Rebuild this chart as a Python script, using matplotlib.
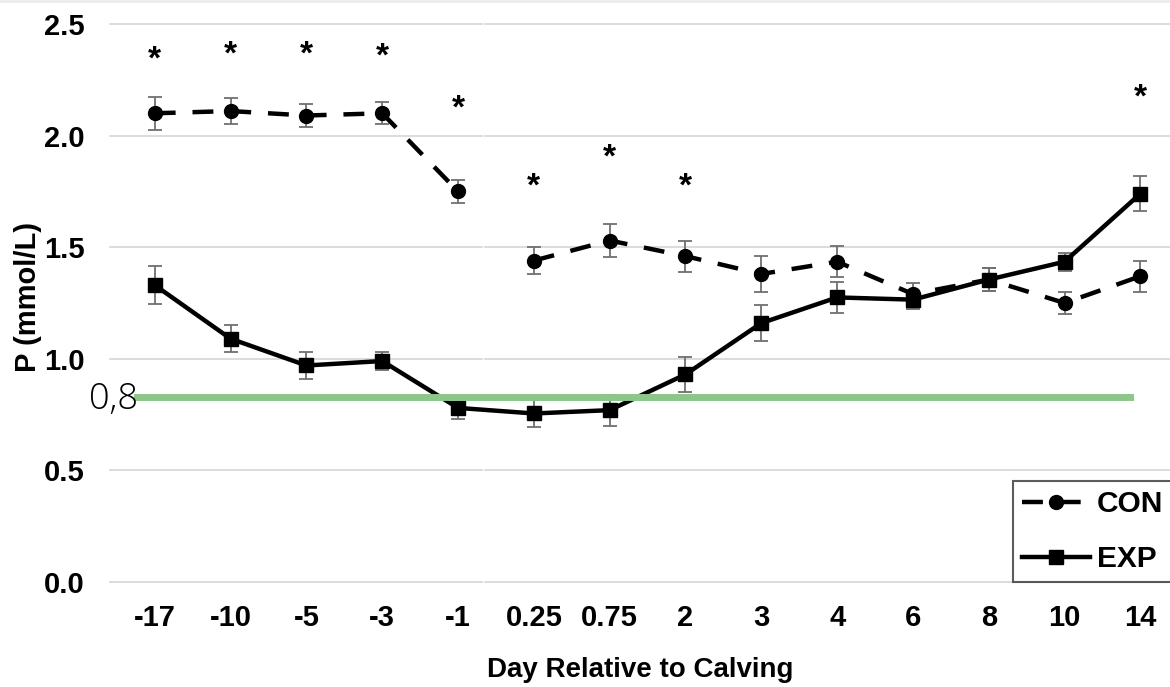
import matplotlib
matplotlib.use("Agg")
import matplotlib.pyplot as plt
from matplotlib.lines import Line2D
import numpy as np

days = ["-17", "-10", "-5", "-3", "-1", "0.25", "0.75", "2", "3", "4", "6", "8", "10", "14"]
con = [2.10, 2.11, 2.09, 2.10, 1.75, 1.44, 1.53, 1.46, 1.38, 1.435, 1.29, 1.355, 1.25, 1.37]
con_err = [0.075, 0.06, 0.05, 0.05, 0.05, 0.06, 0.075, 0.07, 0.08, 0.07, 0.05, 0.05, 0.05, 0.07]
exp_ = [1.33, 1.09, 0.97, 0.99, 0.78, 0.755, 0.77, 0.93, 1.16, 1.275, 1.265, 1.355, 1.435, 1.74]
exp_err = [0.085, 0.06, 0.06, 0.04, 0.05, 0.06, 0.07, 0.08, 0.08, 0.07, 0.04, 0.05, 0.04, 0.08]
sig_days = ["-17", "-10", "-5", "-3", "-1", "0.25", "0.75", "2", "14"]
sig_y = [2.34, 2.36, 2.36, 2.35, 2.12, 1.77, 1.90, 1.77, 2.17]
threshold = 0.83
threshold_label = "0,8"

bold_font = ["Liberation Sans", "DejaVu Sans"]

fig = plt.figure(figsize=(11.70, 6.87), dpi=100)
ax = fig.add_axes([110 / 1170, 1 - 582 / 687, 1060 / 1170, (582 - 24) / 687])

# faint border line at the very top of the image
fig.add_artist(Line2D([0, 1], [0.998, 0.998], transform=fig.transFigure, color="#ececec", lw=2))

x = np.arange(len(days))
ax.set_xlim(-0.59, 13.39)
ax.set_ylim(0, 2.5)

# gridlines (two segments, as in the composite source image)
for yv in np.arange(0, 2.51, 0.5):
    ax.plot([-0.59, 4.32], [yv, yv], color="#d9d9d9", lw=1.3, zorder=0, clip_on=False)
    ax.plot([4.36, 13.39], [yv, yv], color="#d9d9d9", lw=1.3, zorder=0, clip_on=False)

for s in ax.spines.values():
    s.set_visible(False)

ecol = "#707070"
ax.errorbar(x, con, yerr=con_err, fmt="none", ecolor=ecol, elinewidth=1.3, capsize=5, capthick=1.3, zorder=2)
ax.errorbar(x, exp_, yerr=exp_err, fmt="none", ecolor=ecol, elinewidth=1.3, capsize=5, capthick=1.3, zorder=2)
con_arr = np.array(con)
# CON drawn as two segments (no connection between -1 and 0.25)
l_con, = ax.plot(x[:5], con_arr[:5], color="black", lw=3.2, dashes=(4.7, 3.8),
                 marker="o", markersize=10, zorder=3, label="CON")
ax.plot(x[5:], con_arr[5:], color="black", lw=3.2, dashes=(4.7, 3.8),
        marker="o", markersize=10, zorder=3)
l_exp, = ax.plot(x, exp_, color="black", lw=3.2, marker="s", markersize=10, zorder=3, label="EXP")

# significance asterisks
for d, yv in zip(sig_days, sig_y):
    ax.text(days.index(d), yv, "*", ha="center", va="center", fontsize=24,
            fontweight="bold", family=bold_font)

# threshold line
ax.axhline(threshold, xmin=0.025, xmax=0.962, color="#8cc688", lw=5, zorder=4)
ax.text(-0.22, threshold - 0.012, threshold_label, ha="right", va="center", fontsize=26,
        family=["Open Sans", "DejaVu Sans"], fontweight="light", zorder=5)

ax.set_xticks(x)
ax.set_xticklabels(days)
ax.set_yticks(np.arange(0, 2.51, 0.5))
ax.set_yticklabels([f"{v:.1f}" for v in np.arange(0, 2.51, 0.5)])
ax.tick_params(axis="both", length=0, labelsize=21)
ax.tick_params(axis="x", pad=16)
ax.tick_params(axis="y", pad=18)
for lab in ax.get_xticklabels() + ax.get_yticklabels():
    lab.set_fontweight("bold")
    lab.set_family(bold_font)

ax.set_xlabel("Day Relative to Calving", fontsize=20, fontweight="bold", family=bold_font, labelpad=18)
ax.set_ylabel("P (mmol/L)", fontsize=21, fontweight="bold", family=bold_font)
ax.yaxis.set_label_coords(-0.064, 0.51)

leg = ax.legend(handles=[l_con, l_exp], loc="lower right", bbox_to_anchor=(1.002, 0.0),
                borderaxespad=0, frameon=True, fancybox=False, edgecolor="#333333",
                prop={"family": bold_font, "weight": "bold", "size": 21.5},
                handlelength=2.27, handletextpad=0.23, borderpad=0.3, labelspacing=0.9)
leg.get_frame().set_linewidth(1.5)
leg.set_zorder(6)

fig.savefig("out.png", dpi=100)
